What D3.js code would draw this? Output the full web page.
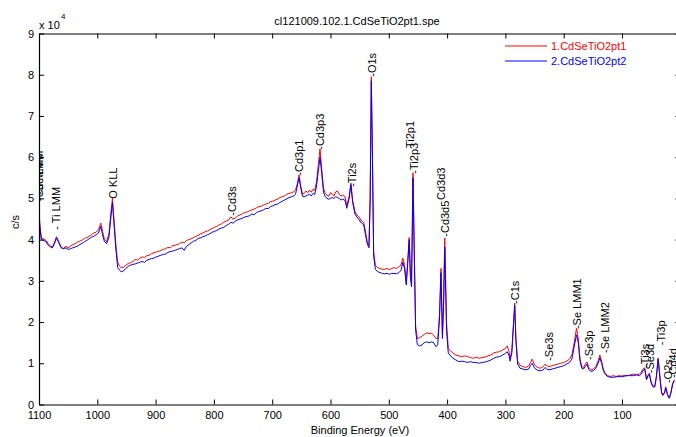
<!DOCTYPE html>
<html>
<head>
<meta charset="utf-8">
<script src="https://cdn.jsdelivr.net/npm/d3@7"></script>
<style>
  html, body { margin: 0; padding: 0; background: #fff; }
  svg { display: block; font-family: "Liberation Sans", Arial, Helvetica, sans-serif; }
</style>
</head>
<body>
<svg id="chart" width="676" height="437"></svg>
<script>
// ---- Data (binding energy in eV, counts in units of 1e4 c/s) ----
const energy = [1100,1098,1096,1092,1088,1084,1080,1077,1073,1070,1066,1062,1058,1054,1050,1046,1042,1038,1034,1030,1026,1022,1018,1014,1010,1006,1002,998,994,991,988,984,980,977,974,971,968,965,962,959,955,951,947,943,939,935,931,927,923,919,915,911,907,903,899,895,891,887,883,879,875,871,867,863,859,855,851,847,843,839,835,831,827,823,819,815,811,807,803,799,795,791,787,783,779,775,771,767,763,759,755,751,747,743,739,735,731,727,723,719,715,711,707,703,699,695,691,687,683,679,675,671,667,663,660,657,654,651,648,645,642,639,636,633,630,627,624,621,618,615,612,609,606,603,600,597,594,591,588,585,582,579,575,572,568,565,562,558,555,551,547,543,540,537,534,532,530,528,526,523,519,515,511,507,503,499,495,491,487,483,479,476,473,470,467,465,463,461,458.5,456,454,451,447,443,439,435,431,427,423,419,416,413,410.5,408,406,404,401,398,394,390,385,380,375,370,365,360,355,350,345,340,335,330,325,320,315,310,305,300,297,294,292,289,286,284,282,279,275,270,265,260,257,254,250,245,240,235,232,229,225,220,215,210,205,200,195,190,186,182,178,175,172,169,166,163,160,157,153,149,145,141,138,135,132,129,125,120,115,110,105,100,95,90,85,80,75,70,67,64,61,58,55,53,50,47,44,41,38,36,34,32,30,27,25,22,19,16,13,10];

const seriesPt1 = [4.65,4.30,4.04,4.02,3.98,3.90,3.84,3.82,3.95,4.07,3.95,3.82,3.78,3.84,3.80,3.84,3.88,3.90,3.94,3.96,3.99,4.03,4.05,4.08,4.12,4.16,4.18,4.24,4.40,4.20,4.02,3.95,4.15,4.60,5.00,4.40,3.85,3.45,3.36,3.32,3.33,3.38,3.42,3.44,3.47,3.52,3.50,3.55,3.58,3.57,3.61,3.62,3.66,3.68,3.70,3.71,3.74,3.76,3.78,3.81,3.80,3.85,3.86,3.88,3.90,3.94,3.92,3.98,4.00,4.02,4.05,4.08,4.10,4.14,4.16,4.19,4.21,4.24,4.27,4.30,4.32,4.36,4.38,4.42,4.45,4.47,4.55,4.50,4.52,4.58,4.60,4.63,4.66,4.67,4.70,4.72,4.74,4.77,4.80,4.81,4.84,4.86,4.88,4.92,4.93,4.96,4.98,5.02,5.04,5.06,5.10,5.12,5.14,5.16,5.20,5.35,5.57,5.30,5.10,5.12,5.18,5.14,5.20,5.15,5.22,5.20,5.40,5.80,6.20,5.70,5.25,5.12,5.08,5.05,5.14,5.10,5.06,5.16,5.18,5.10,5.06,5.08,5.04,4.82,5.05,5.37,4.95,4.68,4.60,4.55,4.45,4.42,4.20,3.95,3.85,5.00,7.95,6.00,3.70,3.38,3.32,3.30,3.28,3.28,3.30,3.27,3.30,3.32,3.30,3.34,3.38,3.55,3.40,2.95,3.60,4.05,3.20,2.95,5.62,3.50,1.90,1.60,1.62,1.66,1.70,1.74,1.72,1.73,1.68,1.60,1.60,2.20,3.30,1.70,2.60,4.04,2.00,1.35,1.30,1.25,1.20,1.18,1.16,1.18,1.16,1.14,1.12,1.15,1.12,1.14,1.15,1.18,1.20,1.25,1.27,1.28,1.32,1.36,1.42,1.30,1.12,1.30,2.00,2.46,1.60,1.05,0.95,0.92,0.90,0.94,1.02,1.10,0.96,0.90,0.88,0.92,0.98,0.94,0.92,0.94,0.96,0.98,1.00,1.02,1.05,1.10,1.20,1.50,1.85,1.60,1.10,0.92,0.90,0.98,1.03,0.90,0.84,0.86,0.92,1.05,1.20,1.05,0.86,0.76,0.70,0.68,0.70,0.68,0.70,0.69,0.71,0.70,0.72,0.74,0.72,0.74,0.78,0.86,0.89,0.62,0.72,0.76,0.55,0.45,0.44,0.70,1.13,0.85,0.55,0.30,0.23,0.30,0.43,0.25,0.16,0.30,0.52,0.60];

const seriesPt2 = [4.55,4.22,4.00,3.98,3.95,3.86,3.82,3.80,3.92,4.04,3.92,3.80,3.78,3.80,3.76,3.78,3.80,3.82,3.84,3.88,3.91,3.95,3.98,4.02,4.06,4.08,4.12,4.16,4.32,4.12,3.96,3.90,4.06,4.50,4.90,4.30,3.75,3.32,3.26,3.22,3.24,3.30,3.35,3.38,3.40,3.41,3.43,3.45,3.47,3.45,3.50,3.52,3.54,3.55,3.58,3.60,3.62,3.64,3.65,3.69,3.71,3.72,3.74,3.76,3.78,3.80,3.74,3.84,3.88,3.92,3.96,3.98,4.03,4.04,4.07,4.09,4.12,4.14,4.18,4.20,4.22,4.26,4.28,4.30,4.34,4.37,4.42,4.40,4.45,4.48,4.50,4.52,4.55,4.56,4.58,4.62,4.60,4.66,4.68,4.70,4.72,4.76,4.75,4.80,4.82,4.85,4.86,4.90,4.93,4.96,4.99,5.02,5.04,5.06,5.10,5.30,5.50,5.25,5.05,5.04,5.06,5.08,5.10,5.06,5.12,5.10,5.30,5.65,6.00,5.60,5.15,5.04,5.00,4.98,5.00,5.02,5.00,5.04,5.02,5.00,4.96,4.98,4.95,4.76,5.00,5.33,4.90,4.62,4.55,4.48,4.40,4.36,4.12,3.90,3.80,4.95,7.85,5.90,3.60,3.28,3.22,3.20,3.18,3.17,3.18,3.16,3.18,3.18,3.17,3.20,3.25,3.45,3.30,2.90,3.55,4.00,3.10,2.85,5.50,3.40,1.80,1.45,1.42,1.45,1.50,1.52,1.50,1.52,1.50,1.40,1.45,2.10,3.20,1.60,2.40,3.82,1.80,1.25,1.18,1.12,1.08,1.04,1.05,1.04,1.02,1.04,1.02,1.02,1.00,1.02,1.03,1.05,1.08,1.12,1.15,1.16,1.20,1.24,1.28,1.20,1.05,1.25,1.95,2.40,1.55,0.98,0.88,0.86,0.84,0.86,0.95,1.00,0.88,0.83,0.82,0.84,0.90,0.86,0.84,0.86,0.88,0.90,0.92,0.94,0.98,1.02,1.10,1.40,1.69,1.50,1.05,0.88,0.86,0.92,0.98,0.85,0.80,0.82,0.88,1.00,1.13,1.00,0.82,0.74,0.68,0.66,0.66,0.67,0.68,0.67,0.69,0.70,0.70,0.70,0.72,0.70,0.74,0.82,0.86,0.60,0.70,0.74,0.52,0.43,0.42,0.65,1.10,0.80,0.50,0.28,0.22,0.28,0.40,0.24,0.15,0.28,0.50,0.58];

const seriesNames = ["1.CdSeTiO2pt1", "2.CdSeTiO2pt2"];
const xTicks = [1100, 1000, 900, 800, 700, 600, 500, 400, 300, 200, 100];
const yTicks = [0, 1, 2, 3, 4, 5, 6, 7, 8, 9];

// peak annotations: label, binding energy, label start (1e4 c/s)
const peakNames = ["-Cd MNN", "-Se LMM", "- Ti LMM", "O KLL", "-Cd3s", "-Cd3p1", "-Cd3p3", "-Ti2s", "-O1s", "Ti2p1", "-Ti2p3", "Cd3d3", "-Cd3d5", "-C1s", "-Se3s", "-Se LMM1", "-Se3p", "-Se LMM2", "-Ti3s", "-Se3d", "-Ti3p", "-O2s", "-Cd4d"];
const peakEnergy = [1099.2, 1100.2, 1070, 973.1, 769.1, 653.4, 617.4, 563.4, 529.1, 464, 457.1, 410.8, 404, 284, 225.7, 176.8, 156.2, 129.7, 60.2, 52.5, 32.8, 20.8, 12.2];
const peakLevel = [4.93, 5.08, 4.24, 4.99, 4.58, 5.55, 6.18, 5.28, 7.95, 6.22, 5.60, 4.96, 4.07, 2.44, 1.06, 1.83, 1.08, 1.25, 0.89, 0.76, 1.44, 0.52, 0.64];

(function () {
  if (energy.length !== seriesPt1.length || energy.length !== seriesPt2.length) {
    throw new Error("length mismatch " + energy.length + " " + seriesPt1.length + " " + seriesPt2.length);
  }

  const mLeft = 39, mRight = 680.3, mTop = 33.5, mBottom = 404.5;
  const fontSize = 11;

  const svg = d3.select("#chart");
  const x = d3.scaleLinear().domain([1100, 0]).range([mLeft, mRight]);
  const y = d3.scaleLinear().domain([0, 9]).range([mBottom, mTop]);

  svg.append("defs").append("clipPath").attr("id", "plotclip")
    .append("rect").attr("x", mLeft).attr("y", 0).attr("width", mRight - mLeft).attr("height", mBottom);

  const line = d3.line().x((d, i) => x(energy[i])).y(d => y(d));

  const plot = svg.append("g").attr("clip-path", "url(#plotclip)");
  plot.append("path").datum(seriesPt1).attr("d", line)
    .attr("fill", "none").attr("stroke", "#ff0000").attr("stroke-width", 1);
  plot.append("path").datum(seriesPt2).attr("d", line)
    .attr("fill", "none").attr("stroke", "#0000ff").attr("stroke-width", 1);

  // peak labels (clipped to the axes box, as in the original)
  peakNames.forEach((name, i) => {
    const px = x(peakEnergy[i]), py = y(peakLevel[i]);
    plot.append("text")
      .attr("transform", `translate(${px},${py}) rotate(-90)`)
      .attr("dy", "0.35em")
      .attr("font-size", fontSize)
      .attr("fill", "#000")
      .text(name);
  });

  const fmt = d3.format("d");
  const gx = svg.append("g").attr("transform", `translate(0,${mBottom})`)
    .call(d3.axisBottom(x).tickValues(xTicks).tickFormat(fmt).tickSize(-5).tickSizeOuter(0).tickPadding(7));
  const gxt = svg.append("g").attr("transform", `translate(0,${mTop})`)
    .call(d3.axisTop(x).tickValues(xTicks).tickSize(-5).tickSizeOuter(0).tickFormat(""));
  const gy = svg.append("g").attr("transform", `translate(${mLeft},0)`)
    .call(d3.axisLeft(y).tickValues(yTicks).tickFormat(fmt).tickSize(-5).tickSizeOuter(0).tickPadding(5));
  const gyr = svg.append("g").attr("transform", `translate(${mRight},0)`)
    .call(d3.axisRight(y).tickValues(yTicks).tickSize(-5).tickSizeOuter(0).tickFormat(""));

  [gx, gxt, gy, gyr].forEach(g => {
    g.selectAll(".domain").attr("stroke", "#000").attr("stroke-width", 1.2);
    g.selectAll(".tick line").attr("stroke", "#000").attr("stroke-width", 1);
    g.selectAll("text").attr("font-size", fontSize).attr("fill", "#000")
      .attr("font-family", "Liberation Sans, Arial, sans-serif");
  });

  svg.append("text").attr("x", 39).attr("y", 29)
    .attr("font-size", fontSize).attr("fill", "#000").text("x 10");
  svg.append("text").attr("x", 61).attr("y", 19)
    .attr("font-size", 8).attr("fill", "#000").text("4");

  svg.append("text").attr("x", 357).attr("y", 25).attr("text-anchor", "middle")
    .attr("font-size", fontSize).attr("fill", "#000").text("cl121009.102.1.CdSeTiO2pt1.spe");
  svg.append("text").attr("x", 360).attr("y", 434).attr("text-anchor", "middle")
    .attr("font-size", fontSize).attr("fill", "#000").text("Binding Energy (eV)");
  svg.append("text").attr("transform", "translate(19,222) rotate(-90)").attr("text-anchor", "middle")
    .attr("font-size", fontSize).attr("fill", "#000").text("c/s");

  const legendColors = ["#ff0000", "#0000ff"];
  seriesNames.forEach((name, i) => {
    const ly = 46 + i * 15;
    svg.append("line").attr("x1", 505).attr("x2", 547).attr("y1", ly).attr("y2", ly)
      .attr("stroke", legendColors[i]).attr("stroke-width", 1);
    svg.append("text").attr("x", 551).attr("y", ly + 4)
      .attr("font-size", fontSize).attr("fill", legendColors[i]).text(name);
  });
})();
</script>
</body>
</html>
